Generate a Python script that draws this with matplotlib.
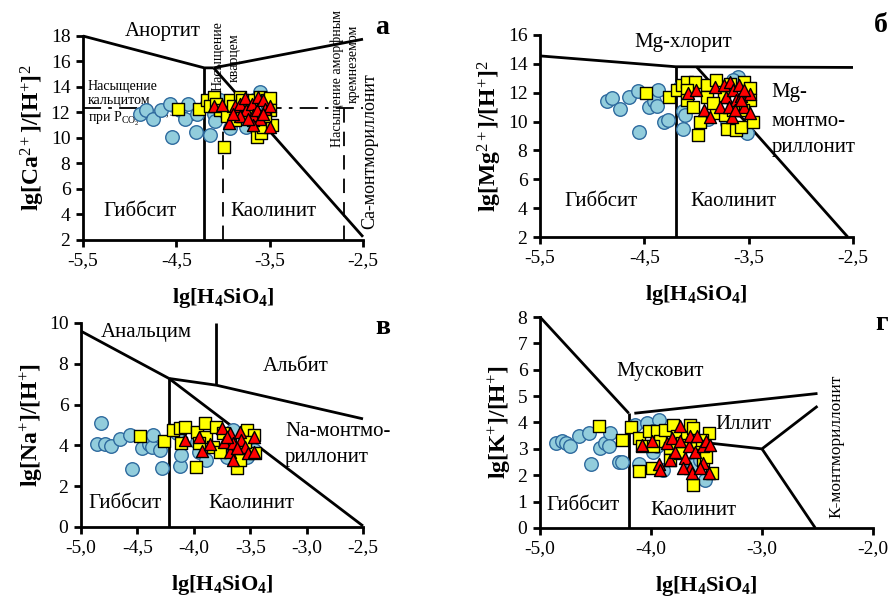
import matplotlib
matplotlib.use('Agg')
import matplotlib.pyplot as plt
from matplotlib.ticker import FuncFormatter

plt.rcParams['font.family'] = ['Liberation Serif', 'DejaVu Serif']
plt.rcParams['mathtext.fontset'] = 'custom'
plt.rcParams['mathtext.rm'] = 'Liberation Serif'
plt.rcParams['mathtext.bf'] = 'Liberation Serif:bold'
plt.rcParams['mathtext.it'] = 'Liberation Serif:italic'
plt.rcParams['axes.unicode_minus'] = False

C_CIRC_FACE = '#92CDDC'
C_CIRC_EDGE = '#2E6A9E'
C_SQ = '#FFFF00'
C_TRI = '#FF0000'

# ---- panel a: Ca ----
a_circ_x = [-4.89, -4.83, -4.75, -4.66, -4.57, -4.55, -4.46, -4.37, -4.41, -4.28, -4.29, -4.14, -4.17,
            -4.10, -4.09, -4.03, -3.93, -3.89, -3.75, -3.60, -3.64, -3.53, -3.67, -3.82, -4.07]
a_circ_y = [11.9, 12.2, 11.5, 12.2, 12.7, 10.1, 12.2, 12.7, 11.5, 11.9, 10.5, 10.2, 12.7,
            11.9, 11.3, 13.0, 10.8, 11.4, 10.9, 13.6, 11.4, 12.2, 13.0, 12.5, 12.5]
a_sq_x = [-4.48, -4.26, -4.17, -4.10, -4.14, -4.07, -4.03, -3.99, -3.93, -3.89, -3.82, -3.75, -3.68, -3.60,
          -3.53, -3.50, -3.64, -3.59, -3.57, -3.48, -3.50, -3.96, -3.87, -3.80, -3.73, -3.68, -3.55, -3.89, -3.80]
a_sq_y = [12.3, 12.3, 13.0, 13.25, 12.5, 12.7, 12.2, 9.3, 13.0, 11.9, 13.25, 12.5, 13.0, 13.25,
          13.0, 13.1, 10.1, 10.4, 10.9, 11.0, 12.2, 11.7, 11.4, 11.7, 12.2, 11.4, 11.7, 12.5, 13.0]
a_tri_x = [-4.10, -4.01, -3.94, -3.87, -3.82, -3.76, -3.75, -3.69, -3.68, -3.64, -3.62, -3.60, -3.57,
           -3.55, -3.68, -3.50, -3.50, -3.82, -3.73, -3.57, -3.89]
a_tri_y = [12.5, 12.6, 11.2, 12.5, 12.7, 13.1, 12.2, 12.7, 11.8, 12.2, 13.2, 11.5, 13.0,
           12.3, 11.0, 12.5, 10.9, 11.7, 11.5, 11.9, 11.9]

# ---- panel б: Mg ----
b_circ_x = [-4.86, -4.81, -4.73, -4.65, -4.56, -4.55, -4.46, -4.41, -4.38, -4.37, -4.31, -4.27, -4.16,
            -4.13, -4.13, -4.11, -3.89, -3.71, -3.60, -3.52, -3.65]
b_circ_y = [11.4, 11.6, 10.9, 11.7, 12.1, 9.3, 11.0, 11.4, 11.1, 12.2, 10.0, 10.1, 12.4,
            9.5, 10.7, 10.45, 10.2, 9.9, 13.1, 9.2, 12.9]
b_sq_x = [-4.48, -4.26, -4.19, -4.14, -4.09, -4.01, -4.09, -4.09, -4.03, -3.97, -3.99, -3.90, -3.90, -3.81,
          -3.81, -3.73, -3.68, -3.71, -3.62, -3.57, -3.54, -3.49, -3.49, -3.46, -3.55, -3.65, -3.74, -3.84]
b_sq_y = [12.0, 11.7, 12.2, 12.5, 12.75, 12.75, 12.2, 11.5, 11.0, 10.0, 9.1, 12.5, 11.7, 12.9,
          10.6, 10.45, 12.6, 9.5, 9.4, 9.6, 12.75, 12.3, 11.5, 10.0, 10.8, 10.8, 11.7, 11.3]
b_tri_x = [-4.08, -4.00, -3.93, -3.87, -3.82, -3.74, -3.72, -3.68, -3.65, -3.66, -3.62, -3.59, -3.57,
           -3.54, -3.49, -3.49, -3.77, -3.69, -3.63, -3.57, -3.54]
b_tri_y = [11.95, 12.2, 10.8, 10.3, 12.4, 12.5, 11.7, 12.75, 12.2, 10.3, 11.5, 12.5, 11.8,
           11.0, 11.9, 10.6, 11.0, 11.0, 10.8, 11.5, 12.2]

# ---- panel в: Na ----
c_circ_x = [-4.86, -4.82, -4.79, -4.73, -4.65, -4.57, -4.55, -4.46, -4.40, -4.37, -4.36, -4.30, -4.28,
            -4.12, -4.11, -4.15, -3.97, -3.95, -3.89, -3.71, -3.65, -3.53, -3.47]
c_circ_y = [4.07, 5.08, 4.07, 3.97, 4.30, 4.51, 2.83, 3.86, 4.07, 3.91, 4.51, 3.77, 2.88,
            3.01, 3.53, 4.59, 4.18, 3.69, 3.28, 3.45, 4.75, 3.45, 3.77]
c_sq_x = [-4.48, -4.26, -4.18, -4.12, -4.08, -4.11, -3.97, -3.98, -3.90, -3.89, -3.80, -3.83, -3.74,
          -3.68, -3.62, -3.59, -3.53, -3.47, -3.46, -3.95, -3.77, -3.55]
c_sq_y = [4.48, 4.23, 4.75, 4.84, 4.92, 4.10, 4.67, 2.92, 5.08, 4.43, 4.92, 3.94, 4.59,
          4.10, 2.88, 3.28, 4.75, 4.51, 3.61, 4.10, 3.69, 4.18]
c_tri_x = [-4.08, -3.95, -3.93, -3.86, -3.75, -3.73, -3.68, -3.68, -3.65, -3.65, -3.59, -3.58, -3.55,
           -3.52, -3.47, -3.47, -3.62, -3.71]
c_tri_y = [4.26, 4.43, 3.74, 4.07, 4.84, 4.18, 4.59, 3.69, 4.10, 3.28, 4.67, 4.26, 3.94,
           3.61, 4.43, 3.69, 3.86, 4.43]

# ---- panel г: K ----
d_circ_x = [-4.86, -4.80, -4.77, -4.73, -4.65, -4.56, -4.54, -4.46, -4.41, -4.37, -4.38, -4.29, -4.26,
            -4.14, -4.11, -4.04, -3.93, -3.98, -3.98, -3.89, -3.62, -3.51, -3.56, -3.95]
d_circ_y = [3.21, 3.28, 3.21, 3.09, 3.47, 3.59, 2.42, 3.03, 3.21, 3.59, 3.09, 2.52, 2.49,
            3.91, 2.42, 3.97, 4.10, 3.66, 2.90, 2.20, 2.39, 1.83, 2.58, 3.09]
d_sq_x = [-4.47, -4.26, -4.18, -4.11, -4.11, -4.08, -4.02, -3.99, -3.95, -3.92, -3.87, -3.83, -3.80, -3.77,
          -3.72, -3.68, -3.65, -3.62, -3.62, -3.59, -3.53, -3.50, -3.48, -3.45, -3.54, -3.83, -3.98, -3.74]
d_sq_y = [3.85, 3.32, 3.82, 3.40, 2.17, 3.09, 3.66, 2.27, 3.66, 3.28, 3.72, 3.03, 3.91, 3.47,
          3.21, 3.59, 3.91, 3.78, 1.64, 3.21, 2.58, 2.71, 3.59, 2.08, 3.34, 2.58, 3.09, 2.84]
d_tri_x = [-4.08, -3.99, -3.93, -3.92, -3.86, -3.83, -3.81, -3.78, -3.74, -3.74, -3.69, -3.66, -3.65,
           -3.65, -3.63, -3.60, -3.59, -3.53, -3.53, -3.50, -3.48, -3.47, -3.56, -3.71]
d_tri_y = [3.16, 3.28, 2.43, 2.20, 3.21, 2.58, 3.40, 2.90, 3.28, 3.85, 2.65, 3.09, 3.47,
           2.27, 2.08, 2.90, 3.47, 3.09, 2.46, 3.28, 2.08, 3.16, 2.27, 2.27]

# stability field boundaries (x list, y list)
a_bounds = [([-5.5, -4.2, -4.1], [18, 15.5, 15.5]),
            ([-4.2, -4.2], [2, 15.5]),
            ([-4.1, -2.5], [15.5, 17.75]),
            ([-4.1, -2.5], [15.5, 2.25])]
b_bounds = [([-5.5, -4.2, -2.5], [14.55, 13.8, 13.75]),
            ([-4.2, -4.2], [2, 13.8]),
            ([-4.0, -2.55], [13.8, 2.0])]
c_bounds = [([-5.0, -4.22], [9.6, 7.28]),
            ([-4.22, -4.22], [0, 7.28]),
            ([-4.22, -2.5], [7.28, 0.05]),
            ([-4.22, -3.8, -2.5], [7.28, 6.95, 5.3]),
            ([-3.8, -3.8], [6.95, 10])]
d_bounds = [([-5.0, -4.2], [8.0, 4.35]),
            ([-4.2, -4.2], [0, 4.35]),
            ([-4.15, -2.5], [4.35, 5.1]),
            ([-3.8, -3.0, -2.5], [3.37, 3.0, 4.62]),
            ([-3.0, -2.52], [3.0, 0])]


def comma(v, pos):
    if abs(v - round(v)) < 1e-9 and v >= 0:
        return f'{int(round(v))}'
    return f'{v:.1f}'.replace('.', ',')


def panel(rect, xlim, ylim, xticks, yticks, bounds, circ, sq, tri, ylabel):
    ax = fig.add_axes(rect)
    ax.set_xlim(*xlim)
    ax.set_ylim(*ylim)
    for s in ['top', 'right']:
        ax.spines[s].set_visible(False)
    for s in ['left', 'bottom']:
        ax.spines[s].set_linewidth(2.0)
        ax.spines[s].set_zorder(6)
    ax.set_xticks(xticks)
    ax.set_yticks(yticks)
    ax.xaxis.set_major_formatter(FuncFormatter(comma))
    ax.yaxis.set_major_formatter(FuncFormatter(comma))
    ax.tick_params(direction='out', length=5, width=2, labelsize=14, pad=4)
    for bx, by in bounds:
        ax.plot(bx, by, color='black', lw=2.0, zorder=2, clip_on=False,
                solid_capstyle='butt')
    ax.scatter(circ[0], circ[1], s=95, marker='o', facecolor=C_CIRC_FACE,
               edgecolor=C_CIRC_EDGE, linewidth=1.0, zorder=3, clip_on=False)
    ax.scatter(sq[0], sq[1], s=70, marker='s', facecolor=C_SQ,
               edgecolor='black', linewidth=1.0, zorder=4, clip_on=False)
    ax.scatter(tri[0], tri[1], s=75, marker='^', facecolor=C_TRI,
               edgecolor='black', linewidth=1.0, zorder=5, clip_on=False)
    ax.set_xlabel(r'lg[H$_\mathbf{4}$SiO$_\mathbf{4}$]', fontsize=16,
                  fontweight='bold', labelpad=12)
    ax.set_ylabel(ylabel, fontsize=17, fontweight='bold', labelpad=3)
    return ax


fig = plt.figure(figsize=(8.93, 5.97), dpi=100)

ax_a = panel([0.0929, 0.598, 0.3136, 0.3417], (-5.5, -2.5), (2, 18),
             [-5.5, -4.5, -3.5, -2.5], list(range(2, 19, 2)), a_bounds,
             (a_circ_x, a_circ_y), (a_sq_x, a_sq_y), (a_tri_x, a_tri_y),
             r'lg[Ca$^{2+}$]/[H$^{+}$]$^{2}$')
ax_b = panel([0.6047, 0.603, 0.3505, 0.3384], (-5.5, -2.5), (2, 16),
             [-5.5, -4.5, -3.5, -2.5], list(range(2, 17, 2)), b_bounds,
             (b_circ_x, b_circ_y), (b_sq_x, b_sq_y), (b_tri_x, b_tri_y),
             r'lg[Mg$^{2+}$]/[H$^{+}$]$^{2}$')
ax_c = panel([0.0907, 0.1173, 0.3158, 0.3417], (-5.0, -2.5), (0, 10),
             [-5.0, -4.5, -4.0, -3.5, -3.0, -2.5], list(range(0, 11, 2)), c_bounds,
             (c_circ_x, c_circ_y), (c_sq_x, c_sq_y), (c_tri_x, c_tri_y),
             r'lg[Na$^{+}$]/[H$^{+}$]')
ax_d = panel([0.6047, 0.1156, 0.3729, 0.3534], (-5.0, -2.0), (0, 8),
             [-5.0, -4.0, -3.0, -2.0], list(range(0, 9)), d_bounds,
             (d_circ_x, d_circ_y), (d_sq_x, d_sq_y), (d_tri_x, d_tri_y),
             r'lg[K$^{+}$]/[H$^{+}$]')

# panel a extras: saturation lines
ax_a.plot([-5.5, -2.5], [12.35, 12.35], color='black', lw=1.3,
          linestyle=(0, (10, 4, 2, 4)), zorder=2)
ax_a.plot([-4.0, -4.0], [2, 12.35], color='black', lw=1.3,
          linestyle=(0, (8, 5)), zorder=2)
ax_a.plot([-2.7, -2.7], [2, 12.35], color='black', lw=1.3,
          linestyle=(0, (8, 5)), zorder=2)

tk = dict(fontsize=15, ha='center', va='center', zorder=1, clip_on=False)
sm = dict(fontsize=10, ha='center', va='center', zorder=1, clip_on=False)

ax_a.text(-4.65, 18.35, 'Анортит', **tk)
ax_a.text(-4.89, 4.2, 'Гиббсит', **tk)
ax_a.text(-3.46, 4.2, 'Каолинит', **tk)
ax_a.text(-2.43, 9.0, 'Са-монтмориллонит', rotation=90, fontsize=13,
          ha='center', va='center', clip_on=False)
ax_a.text(-4.05, 16.4, 'Насыщение', rotation=90, **sm)
ax_a.text(-3.88, 16.3, 'кварцем', rotation=90, **sm)
ax_a.text(-2.78, 14.7, 'Насыщение аморфным', rotation=90, **sm)
ax_a.text(-2.61, 15.8, 'кремнеземом', rotation=90, **sm)
ax_a.text(-5.45, 14.05, 'Насыщение', fontsize=10, ha='left', va='center', zorder=1)
ax_a.text(-5.45, 12.95, 'кальцитом', fontsize=10, ha='left', va='center', zorder=1)
ax_a.text(-5.45, 11.55, r'при P$_{\mathrm{CO_2}}$=10$^{2,5}$ Па', fontsize=10,
          ha='left', va='center', zorder=1)

ax_b.text(-4.13, 15.5, 'Mg-хлорит', **tk)
ax_b.text(-3.28, 12.0, 'Mg-', fontsize=15, ha='left', va='center', clip_on=False)
ax_b.text(-3.28, 10.0, 'монтмо-', fontsize=15, ha='left', va='center', clip_on=False)
ax_b.text(-3.28, 8.2, 'риллонит', fontsize=15, ha='left', va='center', clip_on=False)
ax_b.text(-4.92, 4.45, 'Гиббсит', **tk)
ax_b.text(-3.65, 4.45, 'Каолинит', **tk)

ax_c.text(-4.42, 9.55, 'Анальцим', **tk)
ax_c.text(-3.10, 7.86, 'Альбит', **tk)
ax_c.text(-3.19, 4.7, 'Na-монтмо-', fontsize=15, ha='left', va='center', clip_on=False)
ax_c.text(-3.19, 3.4, 'риллонит', fontsize=15, ha='left', va='center', clip_on=False)
ax_c.text(-4.61, 1.16, 'Гиббсит', **tk)
ax_c.text(-3.49, 1.16, 'Каолинит', **tk)

ax_d.text(-3.92, 5.93, 'Мусковит', **tk)
ax_d.text(-3.17, 3.94, 'Иллит', **tk)
ax_d.text(-4.61, 0.87, 'Гиббсит', **tk)
ax_d.text(-3.62, 0.68, 'Каолинит', **tk)
ax_d.text(-2.33, 3.1, 'К-монтмориллонит', rotation=90, fontsize=12.5,
          ha='center', va='center', clip_on=False)

# panel letters
fig.text(382 / 893, 1 - 28 / 597, 'а', fontsize=20, fontweight='bold', ha='center', va='center')
fig.text(881 / 893, 1 - 25 / 597, 'б', fontsize=20, fontweight='bold', ha='center', va='center')
fig.text(383 / 893, 1 - 327 / 597, 'в', fontsize=20, fontweight='bold', ha='center', va='center')
fig.text(882 / 893, 1 - 323 / 597, 'г', fontsize=20, fontweight='bold', ha='center', va='center')

fig.savefig('out.png', dpi=100, facecolor='white')
